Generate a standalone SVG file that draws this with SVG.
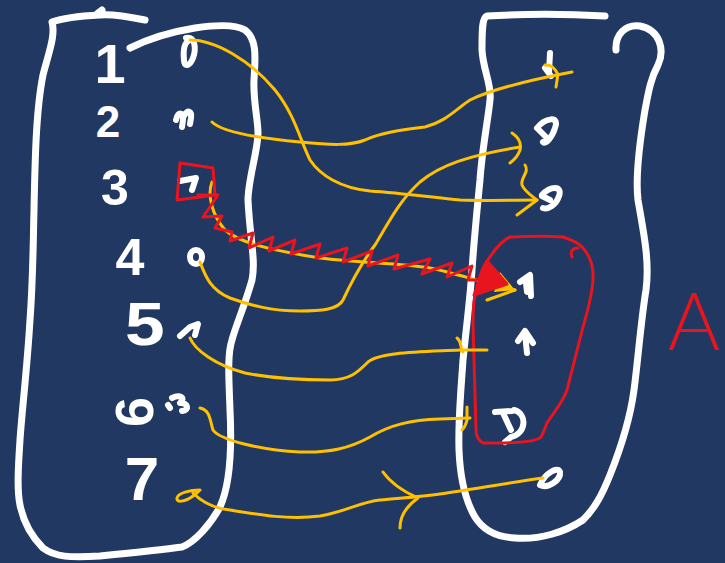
<svg xmlns="http://www.w3.org/2000/svg" width="725" height="563" viewBox="0 0 725 563">
<style>
.cont{fill:none;stroke:#ffffff;stroke-width:7;stroke-linecap:round;stroke-linejoin:round}
.mark{fill:none;stroke:#ffffff;stroke-width:6;stroke-linecap:round;stroke-linejoin:round}
.dig{font-family:"Liberation Sans",Arial,sans-serif;font-weight:bold;fill:#ffffff;text-anchor:middle}
.yl{fill:none;stroke:#FFC000;stroke-width:3;stroke-linecap:round;stroke-linejoin:round}
.rd{fill:none;stroke:#E8141E;stroke-width:3;stroke-linecap:round;stroke-linejoin:round}
</style>
<rect width="725" height="563" fill="#213862"/>

<g id="left-set">
<path class="cont" d="M145,20 C125,16 110,14 100,15 C80,16 60,19 52,22 C56,35 48,55 43,75 C36,110 35,160 34,210 C33,250 33,280 30,320 C27,370 22,410 20,440 C18,470 17,490 20,505 C23,520 30,535 43,548 C55,557 70,558 100,556 C130,553 160,550 182,547 C195,542 210,525 220,507 C230,485 232,450 230,410 C229,380 227,355 232,340 C236,325 245,305 252,280 C256,260 250,240 248,200 C248,180 258,150 258,133 C258,120 253,100 254,80 C255,60 258,40 245,30 C235,24 215,25 195,28 C170,32 150,38 130,48"/>
<path class="cont" d="M98,13 L102,10"/>
</g>

<g id="left-labels">
<text class="dig" x="110" y="83" font-size="56">1</text>
<text class="dig" x="108" y="137" font-size="44">2</text>
<text class="dig" x="115" y="205" font-size="50">3</text>
<text class="dig" x="130" y="275" font-size="52">4</text>
<text class="dig" x="145" y="345" font-size="62" transform="scale(1.15 1) translate(-19 0)">5</text>
<text class="dig" x="135" y="430" font-size="54" transform="rotate(-90 135 412)">6</text>
<text class="dig" x="142" y="500" font-size="62">7</text>
</g>

<g id="left-items">
<path class="mark" d="M186,38 C196,36 196,50 193,58 C190,66 184,68 184,60 C183,50 184,42 190,40"/>
<path class="mark" d="M176,120 C178,111 184,112 183,120 L182,127 M184,116 C188,109 192,111 191,118 L190,124"/>
<path class="mark" d="M180,181 L196,178 L192,190"/>
<ellipse class="mark" cx="196" cy="257" rx="6" ry="7"/>
<path class="mark" d="M180,336 L190,327 L198,324 L195,335"/>
<path class="mark" d="M172,398 C180,394 186,398 180,403 C188,403 190,410 182,411 M168,405 L170,408"/>
</g>

<g id="right-set">
<path class="cont" d="M605,16 C570,14 520,14 487,16 C482,18 482,30 482,50 C483,70 492,85 490,100 C488,120 482,150 480,180 C477,210 474,240 472,270 C470,300 466,330 463,360 C461,390 458,420 459,450 C460,475 465,500 475,517 C483,530 495,537 515,538 C540,540 565,532 583,520 C595,508 602,495 610,475 C620,450 630,420 634,390 C638,360 641,320 646,290 C650,260 643,230 638,200 C635,175 640,140 645,110 C648,95 650,80 658,65 C665,50 660,30 640,26 C625,24 615,35 616,50"/>
</g>

<g id="right-items">
<path class="mark" d="M550,53 L549,72 M545,68 L551,76"/>
<path class="mark" d="M537,128 C545,118 560,115 555,128 C552,138 545,145 543,142 M537,128 L545,136"/>
<path class="mark" d="M542,195 C550,186 563,185 559,196 C556,205 548,210 543,208 M542,196 L550,200"/>
<path class="mark" d="M520,282 L530,275 L531,296 M526,283 L527,292"/>
<path class="mark" d="M518,341 L525,331 L533,343 M525,334 L527,353"/>
<path class="mark" d="M495,412 L512,411 M503,413 L511,430 M514,410 C528,414 526,434 511,437 L505,442"/>
<path class="mark" d="M540,485 C545,473 558,466 560,472 C561,480 548,489 540,485 Z"/>
</g>

<g id="subset-A">
<path class="rd" d="M510,237 C530,236 550,236 563,237 C572,240 580,244 583,248 C590,256 594,265 593,280 C592,295 588,310 583,327 C577,350 572,370 567,390 C563,402 552,415 547,423 C544,430 543,435 540,438 C530,443 510,443 483,443 C478,440 476,435 476,430 C475,400 474,360 473,323 C473,310 474,300 475,295 C478,280 483,265 490,257 C496,248 503,240 510,237"/>
<path class="rd" d="M572,257 C570,252 572,248 578,248"/>
<text x="694" y="350" font-size="80" font-family="Lato,'Liberation Sans',sans-serif" font-weight="300" fill="#E8141E" text-anchor="middle">A</text>
</g>

<g id="connectors">
<path class="yl" d="M190,40 C215,40 250,60 275,90 C295,115 300,140 310,160 C320,175 340,188 370,191 C400,193 430,197 460,200 C490,201 515,200 537,200"/>
<path class="yl" d="M525,165 C530,172 520,178 522,185 C525,192 532,196 537,200 L517,215"/>
<path class="yl" d="M212,122 C220,130 245,137 300,142 C330,145 350,146 365,140 C380,133 400,130 425,127 C445,122 455,110 470,100 C490,90 530,80 572,72"/>
<path class="yl" d="M556,87 L558,74 M545,65 C552,64 556,70 558,75"/>
<path class="yl" d="M212,182 C207,195 212,215 225,230 C240,243 270,250 320,258 C360,263 400,263 430,268 C455,273 480,282 515,290"/>
<path d="M500,272 L515,290 L494,292 Z" fill="#FFC000"/>
<path class="yl" d="M487,300 L515,290"/>
<path class="yl" d="M200,262 C205,275 210,290 230,298 C250,305 270,311 300,311 C320,311 338,310 343,300 C350,285 360,265 375,245 C390,220 400,200 420,182 C440,165 470,155 520,147"/>
<path class="yl" d="M512,133 C518,137 522,142 520,150 C518,156 514,160 510,163"/>
<path class="yl" d="M190,338 C195,350 215,365 245,373 C270,378 300,380 330,380 C350,380 358,372 368,362 C380,352 420,352 460,350 L487,350"/>
<path class="yl" d="M457,338 C462,342 460,348 463,352"/>
<path class="yl" d="M200,408 C210,410 210,420 213,430 C220,440 260,450 300,452 C330,453 350,448 370,437 C390,425 410,420 440,419 L470,418"/>
<path class="yl" d="M467,407 L467,420 C466,425 464,428 462,430"/>
<path class="yl" d="M200,490 C190,490 178,493 177,498 C176,503 185,502 193,496 C196,494 198,492 200,490 M193,493 C200,500 210,508 230,510 C260,515 290,520 320,516 C345,512 360,502 380,500 C400,498 420,497 440,494 C470,490 500,484 543,478"/>
<path class="yl" d="M383,472 C390,482 400,490 418,498 C408,505 400,515 400,528"/>
<path class="rd" d="M180,163 L213,168 L215,195 L177,200 Z"/>
<polyline class="rd" points="198,195 218,195 203,217 222,216 215,228 232,232 230,241 253,233 249,248 273,237 269,251 295,240 291,254 320,244 316,258 347,248 343,262 372,251 368,266 398,255 394,269 430,259 422,274 452,263 447,277 472,266 468,280 490,280"/>
<path d="M488,262 L507,284 L474,295 Z" fill="#E8141E" stroke="#E8141E" stroke-width="3" stroke-linejoin="round"/>
</g>
</svg>
